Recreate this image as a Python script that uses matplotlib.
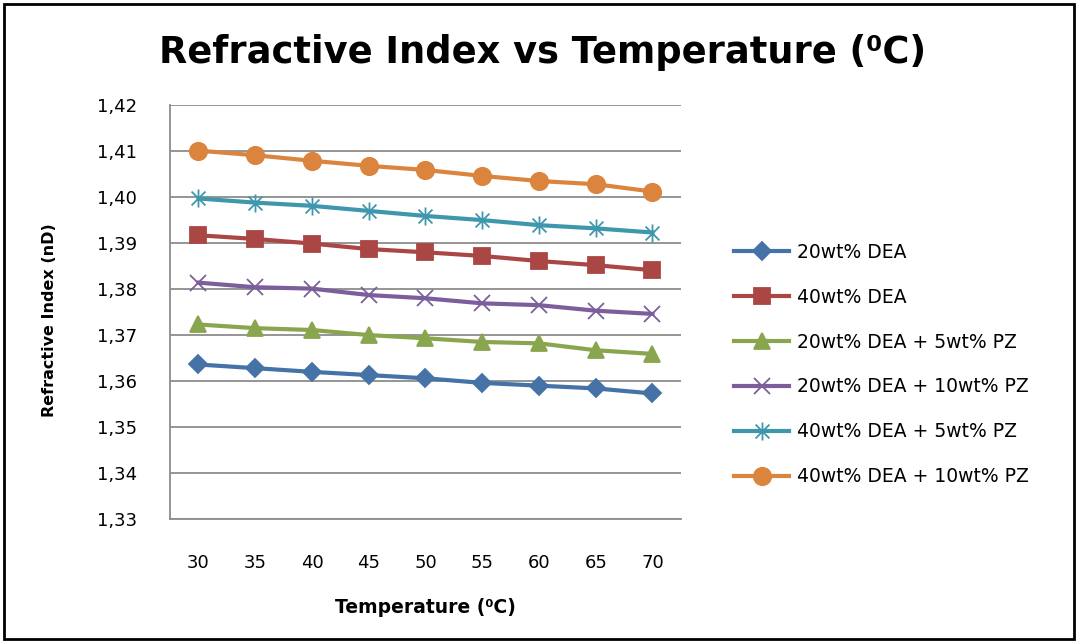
import matplotlib.pyplot as plt
from matplotlib.patches import Rectangle
from matplotlib.path import Path
from matplotlib.ticker import FuncFormatter

temperatures = ["30", "35", "40", "45", "50", "55", "60", "65", "70"]

dea20 = [1.3636, 1.3628, 1.3620, 1.3613, 1.3606, 1.3596, 1.3590, 1.3584, 1.3573]
dea40 = [1.3917, 1.3909, 1.3899, 1.3887, 1.3880, 1.3872, 1.3861, 1.3852, 1.3841]
dea20_pz5 = [1.3723, 1.3715, 1.3711, 1.3700, 1.3693, 1.3685, 1.3682, 1.3667, 1.3659]
dea20_pz10 = [1.3814, 1.3804, 1.3801, 1.3787, 1.3780, 1.3769, 1.3765, 1.3753, 1.3746]
dea40_pz5 = [1.3997, 1.3988, 1.3981, 1.3970, 1.3959, 1.3950, 1.3939, 1.3932, 1.3923]
dea40_pz10 = [1.4101, 1.4091, 1.4079, 1.4068, 1.4059, 1.4046, 1.4035, 1.4028, 1.4012]

labels = ["20wt% DEA", "40wt% DEA", "20wt% DEA + 5wt% PZ",
          "20wt% DEA + 10wt% PZ", "40wt% DEA + 5wt% PZ", "40wt% DEA + 10wt% PZ"]

# asterisk marker like the Excel one (x plus a vertical bar)
asterisk = Path([(-1, -1), (1, 1), (-1, 1), (1, -1), (0, -1.3), (0, 1.3)],
                [Path.MOVETO, Path.LINETO, Path.MOVETO, Path.LINETO, Path.MOVETO, Path.LINETO])

series = [
    (dea20, "#4572A7", "D", 9.5),
    (dea40, "#AA4643", "s", 11),
    (dea20_pz5, "#89A54E", "^", 11.5),
    (dea20_pz10, "#7B5E9B", "x", 11),
    (dea40_pz5, "#3F97AE", asterisk, 13),
    (dea40_pz10, "#DB843D", "o", 12.5),
]

fig = plt.figure(figsize=(10.79, 6.41), dpi=100)
ax = fig.add_axes([0.1576, 0.1903, 0.4734, 0.6457])

x = list(range(len(temperatures)))
for (vals, col, mk, ms), lab in zip(series, labels):
    ax.plot(x, vals, color=col, lw=3, marker=mk, markersize=ms,
            markerfacecolor=col, markeredgecolor=col, markeredgewidth=1.3, label=lab)

ax.set_xlim(-0.5, len(temperatures) - 0.5)
ax.set_ylim(1.33, 1.42)
ax.set_yticks([1.33 + 0.01 * i for i in range(10)])
ax.yaxis.set_major_formatter(FuncFormatter(lambda v, p: f"{v:.2f}".replace(".", ",")))
ax.set_xticks(x)
ax.set_xticklabels(temperatures)
ax.grid(axis="y", color="#8c8c8c", lw=1.3)
ax.set_axisbelow(True)
for s in ["top", "right"]:
    ax.spines[s].set_visible(False)
for s in ["left", "bottom"]:
    ax.spines[s].set_color("#8c8c8c")
    ax.spines[s].set_linewidth(1.3)
ax.tick_params(length=0, labelsize=13)
ax.tick_params(axis="x", pad=25)
ax.tick_params(axis="y", pad=24)

ax.set_xlabel("Temperature (⁰C)", fontsize=13.5, fontweight="bold")
ax.xaxis.set_label_coords(0.499, -0.19)
ax.set_ylabel("Refractive Index (nD)", fontsize=11.5, fontweight="bold")
ax.yaxis.set_label_coords(-0.222, 0.48)

fig.text(0.503, 0.918, "Refractive Index vs Temperature (⁰C)", ha="center", va="center",
         fontsize=26.5, fontweight="bold")

fig.legend(loc="center left", bbox_to_anchor=(0.6647, 0.4313), frameon=False,
           fontsize=13.5, handlelength=2.93, handletextpad=0.43, labelspacing=1.38)

fig.patches.append(Rectangle((0.004, 0.003), 0.991, 0.99, transform=fig.transFigure,
                             fill=False, edgecolor="black", lw=2))

fig.savefig("out.png", dpi=100)
